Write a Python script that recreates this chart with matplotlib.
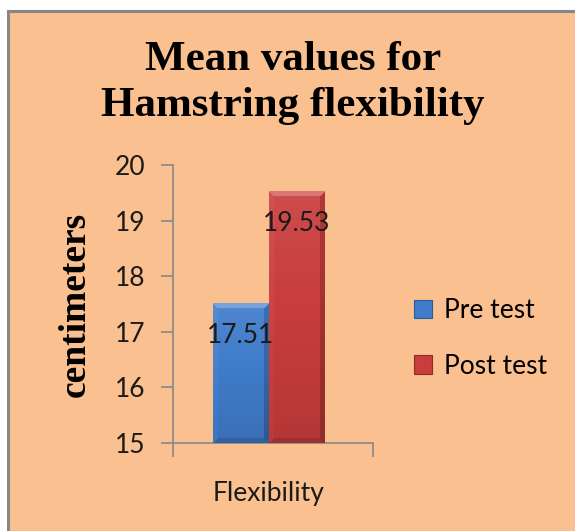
import matplotlib
matplotlib.use("Agg")
import matplotlib.pyplot as plt
import numpy as np
from matplotlib.colors import to_rgb
from matplotlib.patches import Rectangle

W, H = 575, 531
BG = "#FAC090"
AXIS = "#8C8C8C"
FS = 19

categories = ["Flexibility"]
series = ["Pre test", "Post test"]
values = [17.51, 19.53]
colors = ["#407CCB", "#C93D3D"]
dark = ["#2A5A9A", "#8E2A2A"]

fig = plt.figure(figsize=(W / 100, H / 100), dpi=100, facecolor="white")

# chart area frame
fig.patches.append(Rectangle((8 / W, -0.1), 1.2, 1.1 - 11 / H, transform=fig.transFigure,
                             facecolor=BG, edgecolor="#878787", lw=2.2, zorder=-1))

ax = fig.add_axes([173 / W, 88 / H, 200 / W, 278 / H])
ax.set_facecolor("none")
ax.set_xlim(-0.48, 0.52)
ax.set_ylim(15, 20)

width = 0.28
offsets = [-width / 2, width / 2]
bars = []
for i, (name, v) in enumerate(zip(series, values)):
    b = ax.bar(offsets[i], v - 15, width, bottom=15, color=colors[i], label=name, zorder=2,
               edgecolor="none")
    bars.append(b[0])


def bevel_image(color, nx, ny, bev=5):
    base = np.array(to_rgb(color))
    yy, xx = np.mgrid[0:ny, 0:nx]
    # body: slightly lighter at top, darker at bottom
    t = yy / max(ny - 1, 1)
    shade = 0.08 - 0.18 * t
    dl, dr, dt, db = xx, nx - 1 - xx, yy, ny - 1 - yy
    d = np.stack([dt, dl, dr, db])
    near = d.argmin(axis=0)
    inside = d.min(axis=0) < bev
    edge = np.array([0.22, 0.04, -0.18, -0.12])[near]
    shade = np.where(inside, shade + edge, shade)
    img = np.empty((ny, nx, 3))
    for k in range(3):
        c = base[k]
        img[..., k] = np.where(shade >= 0, c + (1 - c) * shade, c * (1 + shade))
    return np.clip(img, 0, 1)


fig.canvas.draw()
for i, patch in enumerate(bars):
    x0, y0 = patch.get_x(), patch.get_y()
    w, h = patch.get_width(), patch.get_height()
    (px0, py0), (px1, py1) = ax.transData.transform([(x0, y0), (x0 + w, y0 + h)])
    img = bevel_image(colors[i], int(round(px1 - px0)), int(round(py1 - py0)))
    im = ax.imshow(img, extent=[x0, x0 + w, y0, y0 + h], aspect="auto", zorder=3,
                   origin="upper", interpolation="bilinear")
    im.set_clip_path(patch)
    ax.text(x0 + w / 2, y0 + h - 0.58, f"{values[i]:.2f}", ha="center", va="center",
            fontsize=FS, family="Lato", color="#1a1a1a", zorder=5)

ax.set_xlim(-0.48, 0.52)
ax.set_ylim(15, 20)
ax.set_yticks(range(15, 21))
ax.set_xticks([-0.48, 0.52])
ax.set_xticklabels([])
ax.text(0, -0.135, categories[0], transform=ax.get_xaxis_transform(), ha="center", va="top",
        fontsize=FS, family="Lato", color="#1a1a1a")

for s in ["top", "right"]:
    ax.spines[s].set_visible(False)
for s in ["left", "bottom"]:
    ax.spines[s].set_color(AXIS)
    ax.spines[s].set_linewidth(1.3)
ax.tick_params(axis="y", direction="out", length=9, width=1.3, color=AXIS,
               labelsize=FS, labelcolor="#1a1a1a", pad=11)
ax.tick_params(axis="x", direction="out", length=10, width=1.3, color=AXIS)
for lab in ax.get_yticklabels():
    lab.set_family("Lato")

ax.set_ylabel("centimeters", family="Liberation Serif", fontweight="bold", fontsize=27,
              labelpad=16)

fig.text(293 / W, 1 - 83 / H, "Mean values for\nHamstring flexibility", ha="center",
         va="center", family="Liberation Serif", fontweight="bold", fontsize=31,
         linespacing=1.3)

handles = [Rectangle((0, 0), 1, 1, facecolor=c, edgecolor=d, lw=0.8) for c, d in zip(colors, dark)]
fig.legend(handles, series, loc="center left", bbox_to_anchor=(414 / W, 1 - 338.5 / H),
           frameon=False, prop={"family": "Lato", "size": FS}, handlelength=0.7,
           handleheight=0.7, handletextpad=0.45, labelspacing=1.15, borderpad=0,
           borderaxespad=0)

fig.savefig("out.png", dpi=100)
